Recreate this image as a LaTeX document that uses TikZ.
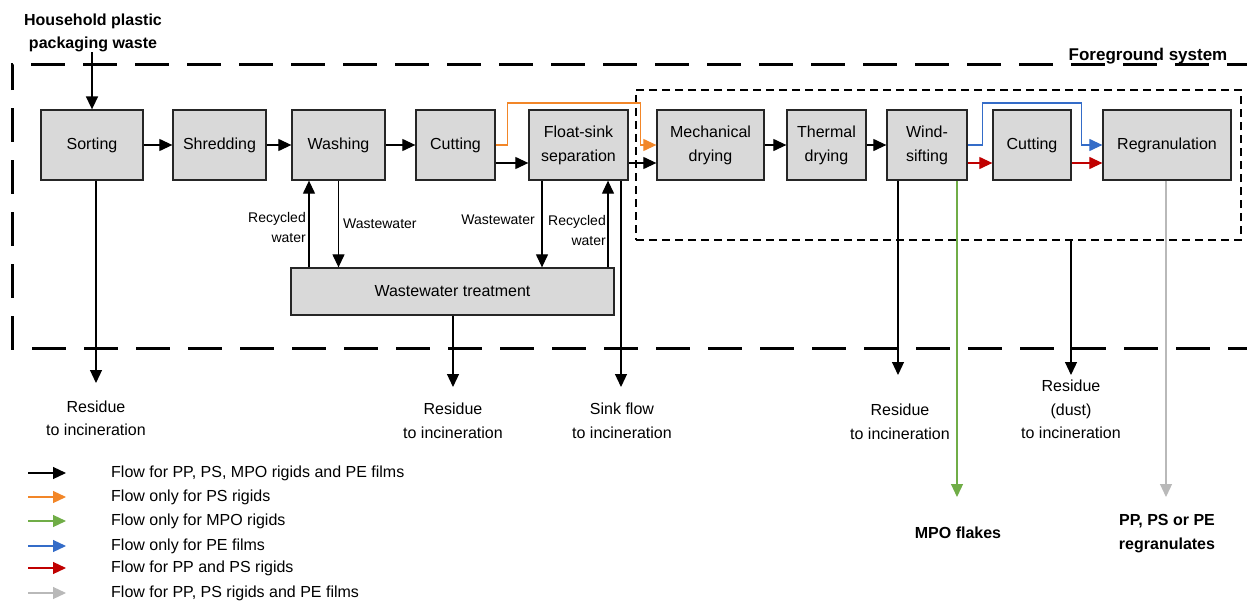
\documentclass[tikz,border=0pt]{standalone}
\usepackage{fontspec}
\setmainfont{Liberation Sans}
\usetikzlibrary{arrows.meta}
\definecolor{boxgray}{RGB}{217,217,217}
\definecolor{forange}{RGB}{242,134,40}
\definecolor{fgreen}{RGB}{112,173,71}
\definecolor{fblue}{RGB}{52,108,200}
\definecolor{fred}{RGB}{192,0,0}
\definecolor{fgray}{RGB}{185,185,185}
\begin{document}
\begin{tikzpicture}[x=1pt,y=-1pt,
  proc/.style={draw=black!85, line width=1.3pt, fill=boxgray, minimum height=70pt,
    inner sep=0pt, font=\fontsize{16}{24}\selectfont, align=center},
  flow/.style={line width=1.2pt, -{Triangle[length=13pt,width=12pt]}},
  lab/.style={font=\fontsize{14}{20}\selectfont, inner sep=0pt, align=right},
  outlab/.style={font=\fontsize{16}{23.5}\selectfont, align=center, inner sep=0pt},
  boldlab/.style={font=\bfseries\fontsize{16}{23.5}\selectfont, align=center, inner sep=0pt},
  legtext/.style={font=\fontsize{16}{20}\selectfont, anchor=west, inner sep=0pt},
  outerbox/.style={line width=3pt, dash pattern=on 34pt off 18pt},
  innerbox/.style={draw, line width=1.2pt, dash pattern=on 8pt off 5pt, inner sep=0pt}
]
\useasboundingbox (0,0) rectangle (1247,602);

% system boundaries
\draw[outerbox, dash phase=8pt] (12,90) -- (12,65) -- (1247,65);
\draw[outerbox, dash phase=34pt] (12,90) -- (12,348) -- (1247,348);
\node[font=\bfseries\fontsize{17}{20}\selectfont, anchor=base, inner sep=0pt] (fgsys) at (1148,60) {Foreground system};
\node[innerbox, minimum width=605pt, minimum height=150pt] (fg) at (938.5,165) {};

% process boxes
\node[proc, minimum width=102pt] (sort)   at (92,145)    {Sorting};
\node[proc, minimum width=93pt]  (shred)  at (219.5,145) {Shredding};
\node[proc, minimum width=93pt]  (wash)   at (338.5,145) {Washing};
\node[proc, minimum width=79pt]  (cut1)   at (455.5,145) {Cutting};
\node[proc, minimum width=99pt]  (float)  at (578.5,145) {Float-sink\\separation};
\node[proc, minimum width=107pt] (mech)   at (710.5,145) {Mechanical\\drying};
\node[proc, minimum width=79pt]  (therm)  at (826.5,145) {Thermal\\drying};
\node[proc, minimum width=80pt]  (wind)   at (927,145)   {Wind-\\sifting};
\node[proc, minimum width=78pt]  (cut2)   at (1032,145)  {Cutting};
\node[proc, minimum width=128pt] (regran) at (1167,145)  {Regranulation};
\node[proc, minimum width=323pt, minimum height=47pt] (wwt) at (452.5,291.5) {Wastewater treatment};

% input
\node[boldlab] (input) at (93,33) {Household plastic\\packaging waste};
\draw[flow, line width=1.6pt] (input.south -| sort.north) -- (sort.north);

% main line
\draw[flow] (sort) -- (shred);
\draw[flow] (shred) -- (wash);
\draw[flow] (wash) -- (cut1);
\draw[flow] ([yshift=-18pt]cut1.east) -- ([yshift=-18pt]float.west);
\draw[flow, forange] (cut1.east) -- ++(12,0) -- ++(0,-42) -| ([xshift=-16pt]mech.west) -- (mech.west);
\draw[flow] ([yshift=-18pt]float.east) -- ([yshift=-18pt]mech.west);
\draw[flow] (mech) -- (therm);
\draw[flow] (therm) -- (wind);
\draw[flow, fred] ([yshift=-18pt]wind.east) -- ([yshift=-18pt]cut2.west);
\draw[flow, fred] ([yshift=-18pt]cut2.east) -- ([yshift=-18pt]regran.west);
\draw[flow, fblue] (wind.east) -- ++(15,0) -- ++(0,-42) -| ([xshift=-21pt]regran.west) -- (regran.west);

% water loops
\draw[flow] ([xshift=-29.5pt]wash.south |- wwt.north) -- ([xshift=-29.5pt]wash.south);
\draw[flow] (wash.south) -- (wash.south |- wwt.north);
\draw[flow] ([xshift=-36.5pt]float.south) -- ([xshift=-36.5pt]float.south |- wwt.north);
\draw[flow] ([xshift=29.5pt]float.south |- wwt.north) -- ([xshift=29.5pt]float.south);
\node[lab, anchor=east] (rw1) at (306,227) {Recycled\\water};
\node[lab, anchor=west] (ww1) at (343,224) {Wastewater};
\node[lab, anchor=east] (ww2) at (535,220) {Wastewater};
\node[lab, anchor=east] (rw2) at (606,230) {Recycled\\water};

% outputs
\coordinate (e1) at (96,383);
\coordinate (e2) at (453,387);
\coordinate (e3) at (621,387);
\coordinate (e4) at (898,375);
\coordinate (e5) at (1071,375);
\coordinate (e6) at (957,497);
\coordinate (e7) at (1166,497);
\draw[flow] (sort.south -| e1) -- (e1);
\draw[flow] (wwt.south -| e2) -- (e2);
\draw[flow] (float.south -| e3) -- (e3);
\draw[flow] (wind.south -| e4) -- (e4);
\draw[flow] (fg.south -| e5) -- (e5);
\draw[flow, fgreen] (wind.south -| e6) -- (e6);
\draw[flow, fgray] (regran.south -| e7) -- (e7);

\node[outlab] (o1) at (96,418.5) {Residue\\to incineration};
\node[outlab] (o2) at (453,421) {Residue\\to incineration};
\node[outlab] (o3) at (622,421) {Sink flow\\to incineration};
\node[outlab] (o4) at (900,422) {Residue\\to incineration};
\node[outlab] (o5) at (1071,409.5) {Residue\\(dust)\\to incineration};
\node[boldlab] (o6) at (958,533) {MPO flakes};
\node[boldlab] (o7) at (1167,533.5) {PP, PS or PE\\regranulates};

% legend
\foreach \i/\yy/\col/\txt in {
  1/473/black/{Flow for PP, PS, MPO rigids and PE films},
  2/497/forange/{Flow only for PS rigids},
  3/521/fgreen/{Flow only for MPO rigids},
  4/546/fblue/{Flow only for PE films},
  5/568/fred/{Flow for PP and PS rigids},
  6/593/fgray/{Flow for PP, PS rigids and PE films}} {
  \coordinate (la\i) at (28,\yy);
  \coordinate (lb\i) at (66,\yy);
  \draw[flow, \col] (la\i) -- (lb\i);
  \node[legtext] (lt\i) at (111,\yy) {\txt};
}
\end{tikzpicture}
\end{document}
